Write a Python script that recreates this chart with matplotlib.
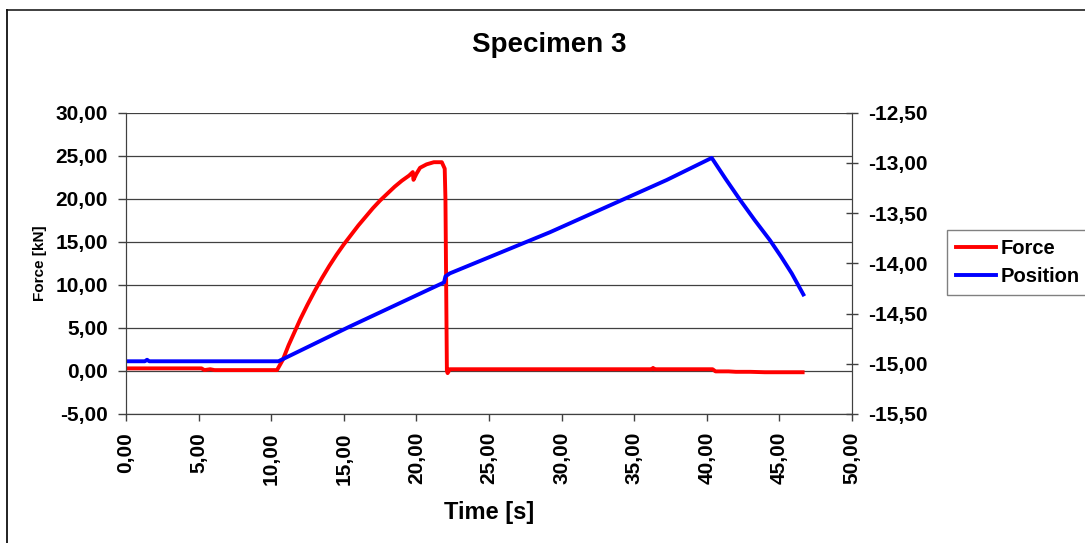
import matplotlib
matplotlib.use('Agg')
import matplotlib.pyplot as plt
from matplotlib.ticker import FuncFormatter
from matplotlib.lines import Line2D

plt.rcParams['font.family'] = ['Liberation Sans', 'DejaVu Sans']
plt.rcParams['font.weight'] = 'bold'

# datos
t_force = [0.0, 5.2, 5.4, 5.8, 6.1, 10.4, 10.8, 11.2, 11.6, 12.0, 12.5, 13.0, 13.5,
           14.0, 14.5, 15.0, 15.5, 16.0, 16.5, 17.0, 17.5, 18.0, 18.5, 19.0, 19.5,
           19.75, 19.8, 20.0, 20.25, 20.7, 21.2, 21.75, 21.95, 22.0, 22.05, 22.1,
           22.15, 22.3, 36.2, 36.3, 36.4, 40.4, 40.6, 41.5, 42.0, 43.0, 44.0, 46.6]
force = [0.3, 0.3, 0.1, 0.2, 0.1, 0.1, 1.3, 3.0, 4.5, 6.0, 7.7, 9.3, 10.8,
         12.2, 13.5, 14.7, 15.8, 16.9, 17.9, 18.9, 19.8, 20.6, 21.4, 22.1, 22.7,
         23.1, 22.2, 22.9, 23.6, 24.0, 24.25, 24.25, 23.5, 20.0, 10.0, 0.0,
         -0.25, 0.2, 0.2, 0.35, 0.2, 0.2, -0.05, -0.05, -0.1, -0.1, -0.15, -0.15]

t_pos = [0.0, 1.3, 1.45, 1.6, 10.5, 15.4, 21.9, 22.0, 22.3, 29.2, 32.6, 37.24,
         40.34, 41.3, 42.3, 43.3, 44.35, 45.1, 45.85, 46.65]
position = [-14.975, -14.975, -14.96, -14.975, -14.975, -14.63, -14.19, -14.13,
            -14.10, -13.69, -13.47, -13.17, -12.95, -13.16, -13.37, -13.57,
            -13.77, -13.93, -14.10, -14.31]

x_ticks = [0, 5, 10, 15, 20, 25, 30, 35, 40, 45, 50]
f_ticks = [-5, 0, 5, 10, 15, 20, 25, 30]
p_ticks = [-15.5, -15.0, -14.5, -14.0, -13.5, -13.0, -12.5]

coma = FuncFormatter(lambda v, p: f'{v:.2f}'.replace('.', ','))

fig = plt.figure(figsize=(10.85, 5.43), dpi=100)
ax = fig.add_axes([126/1085, 1-414/543, (852-126)/1085, (414-112.7)/543])
ax2 = ax.twinx()

l1, = ax.plot(t_force, force, color='#ff0000', lw=2.8, label='Force')
l2, = ax2.plot(t_pos, position, color='#0000ff', lw=2.8, label='Position')

ax.set_xlim(0, 50)
ax.set_ylim(-5, 30)
ax2.set_ylim(-15.5, -12.5)
ax.set_xticks(x_ticks)
ax.set_yticks(f_ticks)
ax2.set_yticks(p_ticks)
ax.xaxis.set_major_formatter(coma)
ax.yaxis.set_major_formatter(coma)
ax2.yaxis.set_major_formatter(coma)
ax.grid(True, axis='y', color='#404040', lw=0.9)
ax.set_axisbelow(True)

for a in (ax, ax2):
    for s in a.spines.values():
        s.set_color('#404040')
    a.spines['top'].set_visible(False)

ax.tick_params(axis='x', direction='out', length=5, width=1, color='#404040',
               labelsize=15, pad=8, labelrotation=90)
ax.tick_params(axis='y', direction='out', length=6, width=1, color='#404040',
               labelsize=15, pad=7)
ax2.tick_params(axis='y', direction='inout', length=9, width=1, color='#404040',
                labelsize=15, pad=7)
for lab in ax.get_xticklabels() + ax.get_yticklabels() + ax2.get_yticklabels():
    lab.set_fontweight('bold')

ax.set_xlabel('Time [s]', fontsize=17, fontweight='bold', labelpad=12)
ax.set_ylabel('Force [kN]', fontsize=11, fontweight='bold', labelpad=6)
fig.text(549/1085, 1-45/543, 'Specimen 3', fontsize=20, fontweight='bold',
         ha='center', va='center')

leg = fig.legend(handles=[l1, l2], loc='upper left',
                 bbox_to_anchor=(947/1085, 1-230/543), fontsize=14.5,
                 handlelength=2.0, handletextpad=0.2, borderpad=0.45,
                 labelspacing=0.45, borderaxespad=0, fancybox=False)
leg.get_frame().set_edgecolor('#606060')
leg.get_frame().set_linewidth(1)
for txt in leg.get_texts():
    txt.set_fontweight('bold')

# marco exterior
fig.add_artist(Line2D([7/1085, 1.0], [1-10/543, 1-10/543], color='#303030', lw=1.3,
                      transform=fig.transFigure))
fig.add_artist(Line2D([7/1085, 7/1085], [0, 1-10/543], color='#101010', lw=1.3,
                      transform=fig.transFigure))

fig.savefig('out.png', dpi=100)
